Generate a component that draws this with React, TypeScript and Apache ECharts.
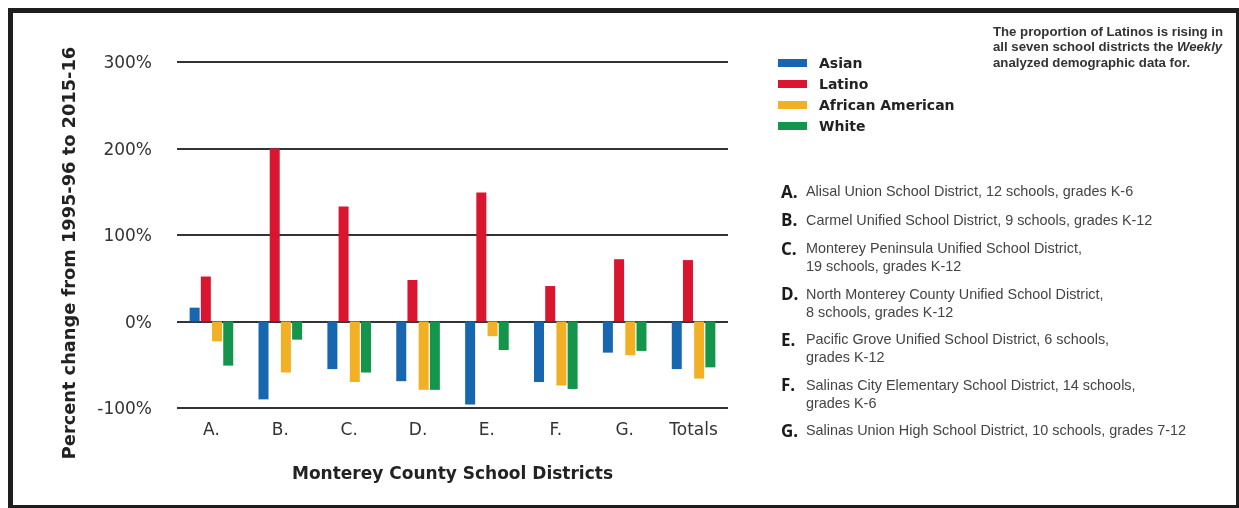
import React, { useEffect, useRef } from "react";
import * as echarts from "echarts";

const categories = ["A.", "B.", "C.", "D.", "E.", "F.", "G.", "Totals"];
const asian = [16, -90, -55, -69, -96, -70, -36, -55];
const latino = [52, 200, 133, 48, 149, 41, 72, 71];
const africanAmerican = [-23, -59, -70, -79, -17, -74, -39, -66];
const white = [-51, -21, -59, -79, -33, -78, -34, -53];
const yTicks = [-100, 0, 100, 200, 300];

const seriesNames = ["Asian", "Latino", "African American", "White"];
const seriesColors = ["#1766b0", "#d9152f", "#f2b125", "#13964b"];

const yAxisTitle = "Percent change from 1995-96 to 2015-16";
const xAxisTitle = "Monterey County School Districts";

const noteLines = [
  "The proportion of Latinos is rising in",
  "all seven school districts the {i|Weekly}",
  "analyzed demographic data for.",
];

const districtLetters = ["A.", "B.", "C.", "D.", "E.", "F.", "G."];
const districtLines = [
  ["Alisal Union School District, 12 schools, grades K-6"],
  ["Carmel Unified School District, 9 schools, grades K-12"],
  ["Monterey Peninsula Unified School District,", "19 schools, grades K-12"],
  ["North Monterey County Unified School District,", "8 schools, grades K-12"],
  ["Pacific Grove Unified School District, 6 schools,", "grades K-12"],
  ["Salinas City Elementary School District, 14 schools,", "grades K-6"],
  ["Salinas Union High School District, 10 schools, grades 7-12"],
];

export default function App() {
  const ref = useRef<HTMLDivElement>(null);
  useEffect(() => {
    if (!ref.current) return;
    const chart = echarts.init(ref.current, null, { renderer: "svg" });
    const dataSets = [asian, latino, africanAmerican, white];

    const graphics: any[] = [];
    // frame: thick top/left, thinner right/bottom
    graphics.push({
      type: "rect",
      shape: { x: 8, y: 8, width: 1231, height: 500 },
      style: { fill: "#1e1e1e" },
      silent: true,
      z: -10,
    });
    graphics.push({
      type: "rect",
      shape: { x: 13, y: 13, width: 1223, height: 492 },
      style: { fill: "#fff" },
      silent: true,
      z: -9,
    });
    // y axis title (rotated)
    graphics.push({
      type: "text",
      x: 68,
      y: 253,
      rotation: Math.PI / 2,
      style: {
        text: yAxisTitle,
        fill: "#222",
        font: "bold 17.8px 'DejaVu Sans', sans-serif",
        align: "center",
        verticalAlign: "middle",
      },
    });
    // note lines
    noteLines.forEach((line, i) => {
      graphics.push({
        type: "text",
        x: 993,
        y: 31 + i * 15.5,
        style: {
          text: line,
          fill: "#333",
          font: "bold 13.2px 'Liberation Sans', sans-serif",
          lineHeight: 14.5,
          verticalAlign: "middle",
          rich: {
            i: {
              fontStyle: "italic",
              fontWeight: "bold",
              fontSize: 13.2,
              lineHeight: 14.5,
              fontFamily: "Liberation Sans",
              fill: "#333",
            },
          },
        },
      });
    });
    // district list
    let y = 191;
    districtLetters.forEach((letter, i) => {
      graphics.push({
        type: "text",
        x: 781,
        y: y,
        style: {
          text: letter,
          fill: "#1a1a1a",
          font: "bold 17px 'Open Sans', sans-serif",
          verticalAlign: "middle",
        },
      });
      districtLines[i].forEach((ln, j) => {
        graphics.push({
          type: "text",
          x: 806,
          y: y + j * 18,
          style: {
            text: ln,
            fill: "#444",
            font: "14.4px 'Liberation Sans Narrow', 'Liberation Sans', sans-serif",
            verticalAlign: "middle",
          },
        });
      });
      y += districtLines[i].length === 2 ? 45.5 : 28.5;
    });

    chart.setOption({
      animation: false,
      backgroundColor: "transparent",
      grid: { left: 177, top: 62, width: 551, height: 346 },
      legend: {
        data: seriesNames,
        orient: "vertical",
        left: 778,
        top: 56,
        itemWidth: 29,
        itemHeight: 8,
        itemGap: 7,
        icon: "rect",
        padding: 0,
        selectedMode: false,
        textStyle: {
          fontFamily: "DejaVu Sans",
          fontWeight: "bold",
          fontSize: 14,
          color: "#222",
          padding: [3, 0, 0, 7],
        },
      },
      xAxis: {
        type: "category",
        data: categories,
        axisLine: { show: false },
        axisTick: { show: false },
        axisLabel: {
          fontFamily: "DejaVu Sans",
          fontSize: 17,
          color: "#333",
          margin: 12,
        },
        name: xAxisTitle,
        nameLocation: "middle",
        nameGap: 56,
        nameTextStyle: {
          fontFamily: "DejaVu Sans",
          fontWeight: "bold",
          fontSize: 17,
          color: "#222",
        },
      },
      yAxis: {
        type: "value",
        min: yTicks[0],
        max: yTicks[yTicks.length - 1],
        interval: 100,
        axisLine: { show: false },
        axisTick: { show: false },
        splitLine: { lineStyle: { color: "#333", width: 2 } },
        axisLabel: {
          fontFamily: "DejaVu Sans",
          fontSize: 17,
          color: "#333",
          margin: 25,
          formatter: (v: number) => `${v}%`,
        },
      },
      series: seriesNames.map((name, i) => ({
        name,
        type: "bar",
        data: dataSets[i],
        barWidth: 10,
        barGap: "12%",
        itemStyle: { color: seriesColors[i] },
      })),
      graphic: graphics,
    });
    return () => chart.dispose();
  }, []);
  return (
    <div
      ref={ref}
      style={{ position: "fixed", left: 0, top: 0, width: 1239, height: 508 }}
    />
  );
}
